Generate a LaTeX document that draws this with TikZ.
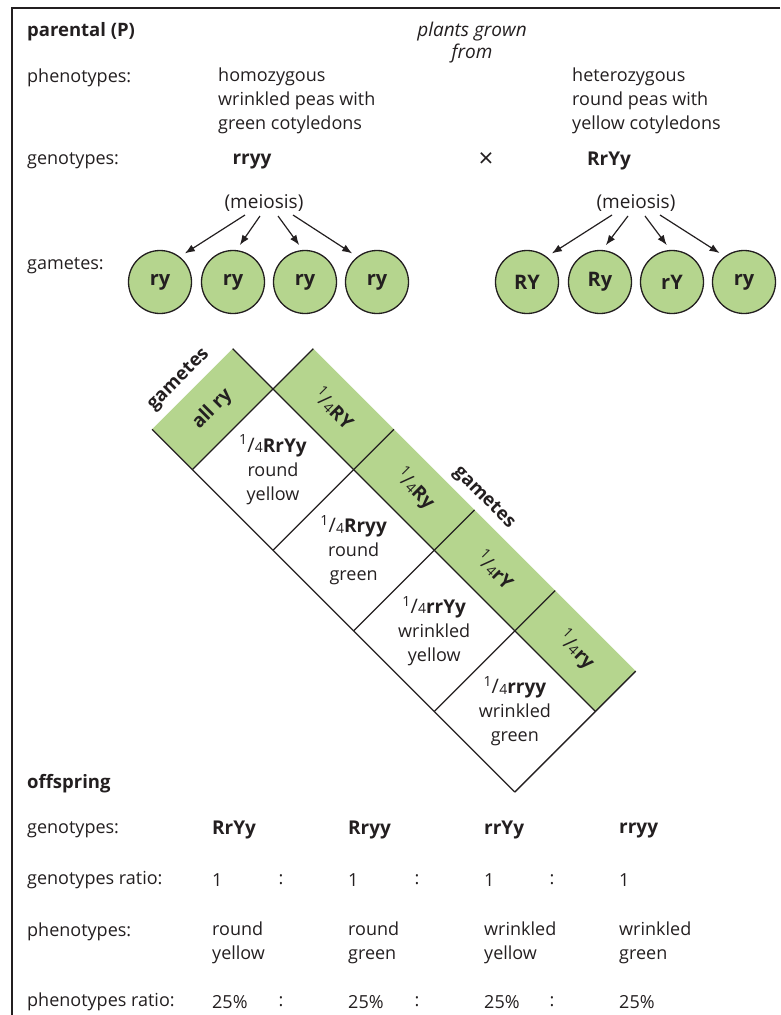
\documentclass[tikz,border=0pt]{standalone}
\usepackage{fontspec}
\setmainfont{Open Sans}
\usetikzlibrary{arrows.meta,calc}
\definecolor{ink}{RGB}{35,31,32}
\definecolor{pea}{RGB}{181,213,142}
\newcommand{\qfrac}{{\fontseries{m}\selectfont\raisebox{0.75ex}{\fontsize{14}{12}\selectfont 1}\kern0.01em{\fontsize{20}{20}\selectfont/}\kern0.01em\raisebox{-0.05ex}{\fontsize{14}{12}\selectfont 4}}}
\begin{document}
\begin{tikzpicture}[x=1pt,y=-1pt,
  every node/.style={inner sep=0pt, text=ink, font=\fontsize{18}{24}\selectfont},
  lbl/.style={anchor=west},
  multi/.style={anchor=west, align=left},
  bold/.style={font=\fontsize{18.5}{24}\selectfont\bfseries},
  geno/.style={font=\fontsize{19}{24}\selectfont\bfseries},
  gam/.style={circle, draw=ink, line width=1.3pt, fill=pea, minimum size=63pt, font=\fontsize{20}{20}\selectfont\bfseries},
  arr/.style={draw=ink, line width=1.2pt, -{Latex[length=10pt,width=7.5pt]}, shorten >=6pt},
  gridline/.style={draw=ink, line width=1.3pt},
  cell/.style={align=center, font=\fontsize{18}{24}\selectfont},
  rot/.style={font=\fontsize{19}{20}\selectfont\bfseries}
]
\useasboundingbox (0,0) rectangle (780,1015);
% frame
\draw[ink, line width=1.3pt] (780,8) -- (12,8) -- (12,1015);

% parental header
\node[lbl, bold] (parental) at (27,32) {parental (P)};
\node[align=center, font=\fontsize{19}{22}\selectfont\itshape] (plants) at (472,43) {plants grown\\from};
\node[lbl] (phenoP) at (27,78) {phenotypes:};
\node[multi] (homo) at (218,101) {homozygous\\wrinkled peas with\\green cotyledons};
\node[multi] (hetero) at (572,101) {heterozygous\\round peas with\\yellow cotyledons};
\node[lbl] (genoP) at (27,161) {genotypes:};
\node[geno] (g1) at (252,161) {rryy};
\node[font=\fontsize{26}{26}\selectfont] (cross) at (486,160) {×};
\node[geno] (g2) at (609,161) {RrYy};
\node[font=\fontsize{19}{24}\selectfont] (meiL) at (264,203) {(meiosis)};
\node[font=\fontsize{19}{24}\selectfont] (meiR) at (636,203) {(meiosis)};
\node[lbl] (gamP) at (27,266) {gametes:};

% gametes circles
\node[gam] (c1) at (160,282) {ry};
\node[gam] (c2) at (233,282) {ry};
\node[gam] (c3) at (305,282) {ry};
\node[gam] (c4) at (377,282) {ry};
\node[gam] (d1) at (527,282) {RY};
\node[gam] (d2) at (600,282) {Ry};
\node[gam] (d3) at (672,282) {rY};
\node[gam] (d4) at (744,282) {ry};

% arrows
\coordinate (ls1) at (245,215);
\coordinate (ls2) at (260,216);
\coordinate (ls3) at (278,216);
\coordinate (ls4) at (293,215);
\coordinate (rs1) at (612,215);
\coordinate (rs2) at (628,216);
\coordinate (rs3) at (645,216);
\coordinate (rs4) at (660,215);
\draw[arr] (ls1) -- (c1.52);
\draw[arr] (ls2) -- (c2.84);
\draw[arr] (ls3) -- (c3.94);
\draw[arr] (ls4) -- (c4.128);
\draw[arr] (rs1) -- (d1.52);
\draw[arr] (rs2) -- (d2.86);
\draw[arr] (rs3) -- (d3.93);
\draw[arr] (rs4) -- (d4.127);

% Punnett square (rotated)
\begin{scope}[shift={(273,389)}, x={(0.7071pt,-0.7071pt)}, y={(-0.7071pt,-0.7071pt)}]
  \fill[pea] (-57,0) -- (0,0) -- (0,114) -- (-57,114) -- cycle;
  \fill[pea] (0,-57) -- (456,-57) -- (456,0) -- (0,0) -- cycle;
  \draw[gridline] (-57,0) -- (456,0);
  \draw[gridline] (-57,114) -- (456,114);
  \draw[gridline] (0,-57) -- (0,114);
  \draw[gridline] (114,-57) -- (114,114);
  \draw[gridline] (228,-57) -- (228,114);
  \draw[gridline] (342,-57) -- (342,114);
  \draw[gridline] (456,-57) -- (456,114);
  \node[rot, font=\fontsize{18.5}{20}\selectfont\bfseries, rotate=45] (gamA) at (-73,60) {gametes};
  \node[rot, rotate=45] (allry) at (-28.5,57) {all ry};
  \node[rot, font=\fontsize{18.5}{20}\selectfont\bfseries, rotate=-45] (gamB) at (226,-72) {gametes};
  \node[rot, rotate=-45] (q1) at (57,-30) {\qfrac RY};
  \node[rot, rotate=-45] (q2) at (171,-30) {\qfrac Ry};
  \node[rot, rotate=-45] (q3) at (285,-30) {\qfrac rY};
  \node[rot, rotate=-45] (q4) at (399,-30) {\qfrac ry};
  \node[cell] (o1) at (57,57) {\qfrac{\fontsize{19}{24}\selectfont\bfseries RrYy}\\round\\yellow};
  \node[cell] (o2) at (171,57) {\qfrac{\fontsize{19}{24}\selectfont\bfseries Rryy}\\round\\green};
  \node[cell] (o3) at (285,57) {\qfrac{\fontsize{19}{24}\selectfont\bfseries rrYy}\\wrinkled\\yellow};
  \node[cell] (o4) at (399,57) {\qfrac{\fontsize{19}{24}\selectfont\bfseries rryy}\\wrinkled\\green};
\end{scope}

% offspring
\node[lbl, bold] (offspring) at (27,784) {offspring};
\node[lbl] (genoO) at (27,830) {genotypes:};
\node[lbl, geno] (t1) at (212,830) {RrYy};
\node[lbl, geno] (t2) at (348,830) {Rryy};
\node[lbl, geno] (t3) at (484,830) {rrYy};
\node[lbl, geno] (t4) at (619,830) {rryy};

\node[lbl] (gratio) at (27,880) {genotypes ratio:};
\node[lbl] (r1) at (212,880) {1};
\node (rc1) at (281,880) {:};
\node[lbl] (r2) at (348,880) {1};
\node (rc2) at (417,880) {:};
\node[lbl] (r3) at (484,880) {1};
\node (rc3) at (552,880) {:};
\node[lbl] (r4) at (619,880) {1};

\node[lbl] (phenoO) at (27,932) {phenotypes:};
\node[multi] (p1) at (212,943) {round\\yellow};
\node[multi] (p2) at (348,943) {round\\green};
\node[multi] (p3) at (484,943) {wrinkled\\yellow};
\node[multi] (p4) at (619,943) {wrinkled\\green};

\node[lbl] (pratio) at (27,1002) {phenotypes ratio:};
\node[lbl] (s1) at (212,1002) {25\%};
\node (sc1) at (281,1002) {:};
\node[lbl] (s2) at (348,1002) {25\%};
\node (sc2) at (417,1002) {:};
\node[lbl] (s3) at (484,1002) {25\%};
\node (sc3) at (552,1002) {:};
\node[lbl] (s4) at (619,1002) {25\%};
\end{tikzpicture}
\end{document}
